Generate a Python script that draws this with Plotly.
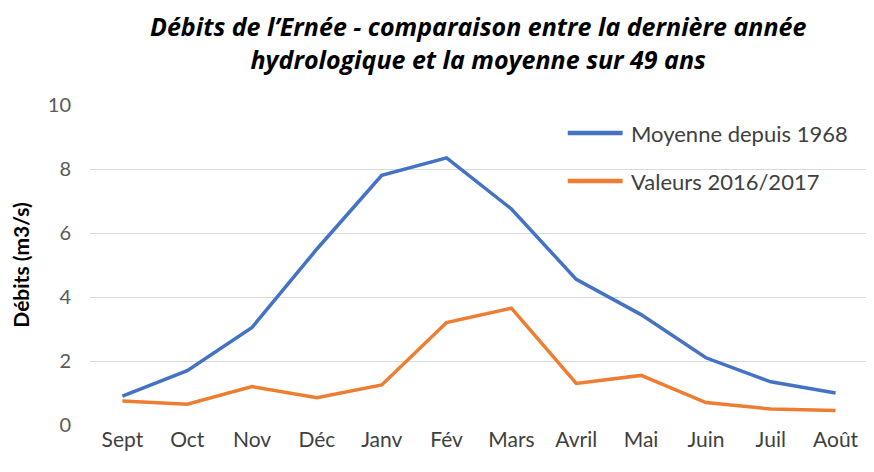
import plotly.graph_objects as go

mois = ["Sept", "Oct", "Nov", "Déc", "Janv", "Fév", "Mars", "Avril", "Mai", "Juin", "Juil", "Août"]
moyenne = [0.9, 1.7, 3.05, 5.5, 7.8, 8.35, 6.75, 4.55, 3.45, 2.1, 1.35, 1.0]
valeurs_2016_2017 = [0.75, 0.65, 1.2, 0.85, 1.25, 3.2, 3.65, 1.3, 1.55, 0.7, 0.5, 0.45]
noms_series = ["Moyenne depuis 1968", "Valeurs 2016/2017"]
couleurs = ["#4472C4", "#ED7D31"]
y_ticks = [0, 2, 4, 6, 8, 10]

OFF = 8  # page offset
W, H = 874, 472
L, T = 88 - OFF, 105 - OFF
R = W - (868 - OFF)
B = H - (425 - OFF)
pw, ph = W - L - R, H - T - B

def px_x(x):
    return (x - OFF - L) / pw

def px_y(y):
    return (H - B - (y - OFF)) / ph

fig = go.Figure()
for nom, vals, col in zip(noms_series, [moyenne, valeurs_2016_2017], couleurs):
    fig.add_trace(go.Scatter(x=mois, y=vals, mode="lines", name=nom,
                             line=dict(color=col, width=3.5), showlegend=False))

# manual legend
leg_rows = [133, 181]
for nom, col, yy in zip(noms_series, couleurs, leg_rows):
    fig.add_shape(type="line", xref="paper", yref="paper",
                  x0=px_x(567), x1=px_x(622), y0=px_y(yy), y1=px_y(yy),
                  line=dict(color=col, width=4.5))
    fig.add_annotation(xref="paper", yref="paper", x=px_x(628), y=px_y(yy),
                       xanchor="left", yanchor="middle", showarrow=False, text=nom,
                       font=dict(family="Lato, sans-serif", size=22, color="#404040"))

# title (two lines, one text)
titre = "<b><i>Débits de l’Ernée - comparaison entre la dernière année<br>hydrologique et la moyenne sur 49 ans</i></b>"
fig.add_annotation(xref="paper", yref="paper", x=px_x(477), y=px_y(43),
                   xanchor="center", yanchor="middle", showarrow=False, borderpad=0,
                   text=titre,
                   font=dict(family="Open Sans, sans-serif", size=25, color="black"))

fig.update_layout(
    width=W, height=H,
    margin=dict(l=L, r=R, t=T, b=B),
    paper_bgcolor="white", plot_bgcolor="white",
    showlegend=False,
)
fig.update_xaxes(showgrid=False, showline=False, zeroline=False,
                 tickfont=dict(family="Lato, sans-serif", size=21, color="#404040"),
                 ticks="", range=[-0.5, 11.5])
fig.update_yaxes(range=[0, 10], tickvals=y_ticks, showgrid=True, gridcolor="#D9D9D9", gridwidth=1.3,
                 zeroline=False, showline=False, ticks="", ticklabelstandoff=18,
                 tickfont=dict(family="Lato, sans-serif", size=20, color="#595959"),
                 title=dict(text="<b>Débits (m3/s)</b>", standoff=13,
                            font=dict(family="Lato, sans-serif", size=21, color="black")))

fig.write_html("out.html")
